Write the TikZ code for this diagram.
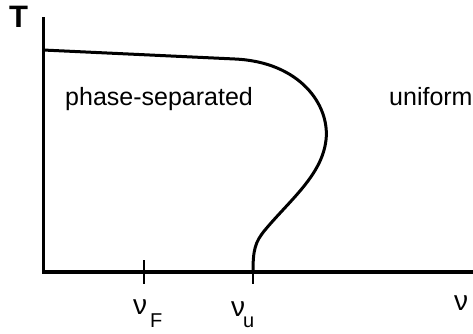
\documentclass[tikz,border=0pt]{standalone}
\usepackage{fontspec}
\setmainfont{Liberation Sans}
\begin{document}
\begin{tikzpicture}[x=1pt,y=-1pt,
  axis/.style={line width=3.2pt},
  curve/.style={line width=3pt,line join=round},
  tick/.style={line width=1.4pt},
  lbl/.style={inner sep=0pt,anchor=base west,font=\fontsize{25}{28}\selectfont},
  nulbl/.style={inner sep=0pt,anchor=base west,font=\fontsize{28}{30}\selectfont},
  sublbl/.style={inner sep=0pt,anchor=base west,font=\fontsize{20}{22}\selectfont}]
\useasboundingbox (0,0) rectangle (473,333);
\coordinate (top) at (43.5,17);
\coordinate (orig) at (43.5,272);
\coordinate (xend) at (473,272);
\draw[axis] (top) -- (orig) -- (xend);
\coordinate (tF1) at (144,260); \coordinate (tF2) at (144,284);
\coordinate (tu1) at (253,260); \coordinate (tu2) at (253,284);
\draw[tick] (tF1) -- (tF2);
\draw[tick] (tu1) -- (tu2);
\draw[curve] (43,50) -- (235,59) .. controls (300,62) and (330,105) .. (326,140)
  .. controls (322,175) and (290,200) .. (265,230)
  .. controls (255,242) and (253,250) .. (253,272);
\node[inner sep=0pt,anchor=base west,font=\fontsize{31}{34}\selectfont\bfseries] (T) at (9,27) {T};
\node[lbl] (ps) at (65,105) {phase-separated};
\node[lbl] (un) at (389,105) {uniform};
\node[nulbl] (nF) at (133,314) {ν};
\node[sublbl] (F) at (150,327) {F};
\node[nulbl] (nu) at (231,316) {ν};
\node[sublbl] (u) at (243,327) {u};
\node[nulbl] (n) at (454,310) {ν};
\end{tikzpicture}
\end{document}
